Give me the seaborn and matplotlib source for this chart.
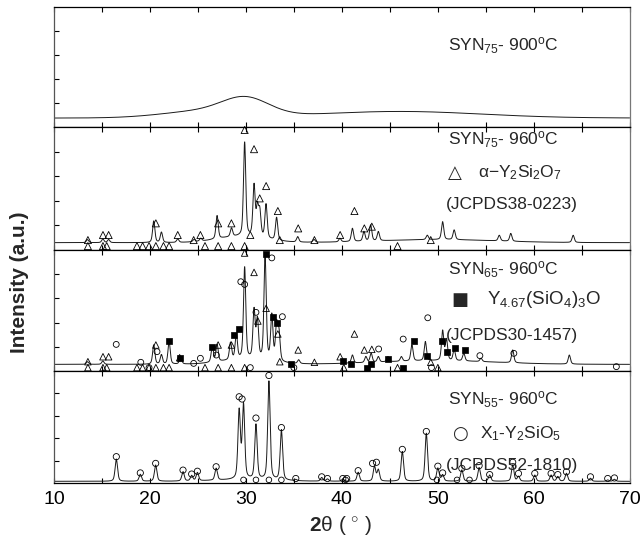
import numpy as np
import pandas as pd
import matplotlib
matplotlib.use("Agg")
import matplotlib.pyplot as plt
import seaborn as sns

# ---------------- data ----------------
# panel 1: SYN75 - 900C, amorphous pattern: baseline + broad humps (centre, height, sigma)
p1_base = 7.5
p1_hump_pos = [30.0, 26.0, 46.0]
p1_hump_h = [13.0, 6.0, 5.5]
p1_hump_sig = [2.4, 4.5, 8.5]
p1_peak_pos = []
p1_peak_top = []

# panel 2: SYN75 - 960C
p2_base = 6.0
p2_hump_pos = [29.5, 50.0]
p2_hump_h = [5.0, 2.5]
p2_hump_sig = [2.5, 6.0]
p2_peak_pos = [13.5, 15.1, 15.7, 20.4, 21.2, 22.9, 24.6, 25.3, 27.0, 28.5, 29.87,
               30.85, 31.2, 31.45, 32.1, 33.2, 35.4, 37.1, 39.8, 41.1, 42.3, 43.0,
               43.8, 48.9, 50.5, 51.7, 56.4, 57.6, 64.1]
p2_peak_top = [8.5, 9.0, 8.5, 23.6, 14.4, 9.0, 8.5, 9.5, 27.9, 17.6, 87.5,
               51.5, 32.5, 29.8, 36.6, 26.3, 10.8, 8.5, 9.5, 17.6, 14.9, 20.3,
               14.9, 12.0, 23.0, 16.3, 12.0, 13.5, 12.0]
p2_tri_x = [13.54, 15.11, 15.70, 20.62, 22.9, 24.56, 25.26, 27.11, 28.49, 29.87, 30.85,
            31.44, 32.11, 33.33, 30.46, 33.53, 35.45, 37.14, 39.82, 41.31, 42.34, 43.12, 49.26]
p2_tri_y = [8.1, 12.2, 12.2, 21.7, 12.2, 8.1, 12.2, 21.7, 21.7, 97.6, 82.0,
            42.0, 52.0, 31.7, 12.2, 8.1, 17.6, 8.1, 12.2, 31.7, 17.6, 19.0, 8.1]
p2_trib_x = [13.54, 15.11, 15.5, 18.65, 19.24, 19.91, 20.62, 21.41, 22.0, 25.74,
             27.11, 28.49, 29.87, 45.8]
p2_trib_y = [3.2] * 14

# panel 3: SYN65 - 960C
p3_base = 5.5
p3_hump_pos = [30.0, 50.0]
p3_hump_h = [4.0, 3.0]
p3_hump_sig = [2.5, 6.0]
p3_peak_pos = [13.5, 15.1, 20.4, 21.2, 22.0, 23.2, 26.5, 27.0, 28.4, 29.0, 29.87,
               30.85, 31.2, 32.0, 32.7, 33.2, 33.45, 35.5, 41.1, 42.5, 43.05, 43.8,
               44.8, 46.2, 47.3, 48.7, 50.5, 50.9, 51.7, 52.7, 54.5, 57.8, 63.7]
p3_peak_top = [7.7, 8.3, 21.5, 13.2, 24.2, 11.8, 20.0, 21.5, 22.9, 29.8, 85.4,
               49.0, 40.8, 94.5, 44.9, 36.6, 29.8, 9.1, 13.2, 11.8, 14.6, 11.8,
               11.8, 11.8, 21.5, 24.2, 33.0, 25.6, 17.4, 14.6, 10.5, 17.4, 13.2]
p3_sq_x = [22.0, 23.18, 26.52, 28.77, 29.28, 32.11, 32.82, 33.21, 34.71, 40.1, 40.96,
           42.57, 43.05, 44.82, 46.39, 47.49, 48.87, 50.44, 50.99, 51.78, 52.8]
p3_sq_y = [24.8, 11.0, 20.1, 29.8, 34.7, 96.5, 44.9, 40.0, 5.5, 8.3, 5.5,
           2.8, 5.5, 9.9, 2.2, 24.8, 12.7, 24.8, 16.0, 19.3, 17.4]
p3_circ_x = [16.49, 20.74, 19.05, 19.91, 24.56, 25.26, 26.92, 29.47, 29.87, 31.05,
             32.7, 33.8, 43.83, 46.39, 48.95, 54.38, 57.92, 68.6, 49.34, 30.46, 35.0]
p3_circ_y = [22.0, 16.0, 7.2, 2.8, 6.3, 10.5, 13.2, 73.8, 71.6, 48.5,
             93.5, 44.9, 18.2, 26.4, 44.0, 12.7, 14.6, 3.6, 2.8, 2.8, 2.8]
p3_tri_x = [13.54, 15.11, 15.70, 20.62, 23.1, 27.11, 28.49, 29.87, 30.85, 31.25, 32.11,
            33.33, 33.53, 35.45, 37.14, 39.82, 41.31, 42.34, 43.12, 49.26]
p3_tri_y = [7.7, 11.8, 11.8, 21.5, 11.0, 21.5, 21.5, 97.5, 81.5, 41.3, 51.8,
            30.6, 7.7, 17.4, 7.2, 11.8, 30.6, 17.4, 17.9, 7.2]
p3_trib_x = [13.54, 15.11, 15.5, 18.65, 19.24, 19.91, 20.62, 21.41, 22.0, 25.74,
             27.11, 28.49, 29.87, 40.2, 45.8, 50.0]
p3_trib_y = [2.8] * 16

# panel 4: SYN55 - 960C
p4_base = 1.5
p4_hump_pos = [30.0]
p4_hump_h = [1.5]
p4_hump_sig = [3.0]
p4_peak_pos = [16.5, 19.0, 20.6, 23.45, 24.35, 24.95, 26.9, 29.3, 29.75, 31.05, 32.4,
               33.7, 35.2, 37.9, 38.5, 40.1, 41.7, 43.4, 43.8, 46.3, 48.8, 50.0, 50.5,
               52.5, 54.3, 55.4, 57.8, 58.4, 60.1, 61.8, 62.5, 63.4, 65.9, 67.7, 68.4]
p4_peak_top = [21.4, 7.7, 16.0, 10.0, 6.5, 9.2, 13.0, 63.7, 69.0, 51.8, 90.5,
               47.0, 2.9, 4.8, 3.5, 3.3, 9.5, 14.6, 11.6, 28.0, 44.3, 13.0, 7.0,
               11.6, 13.7, 7.0, 16.0, 5.7, 7.0, 7.0, 5.7, 8.6, 4.2, 2.7, 3.3]
p4_circ_x = [16.5, 19.0, 20.6, 23.45, 24.35, 24.95, 26.9, 29.3, 29.6, 31.05, 32.4,
             33.7, 35.2, 37.9, 38.5, 40.1, 40.5, 41.7, 43.2, 43.6, 46.3, 48.8, 50.0,
             50.5, 52.5, 54.3, 55.4, 57.8, 58.4, 60.1, 61.8, 62.5, 63.4, 65.9, 67.7, 68.4]
p4_circ_y = [23.5, 9.0, 17.5, 11.5, 8.0, 10.5, 14.5, 77.0, 75.0, 58.0, 96.0,
             49.5, 4.0, 5.5, 4.0, 4.0, 4.0, 11.0, 17.5, 18.5, 30.0, 46.0, 15.0,
             9.0, 13.0, 15.5, 7.5, 18.5, 8.5, 8.5, 8.5, 7.5, 10.0, 5.5, 4.0, 4.5]
p4_circb_x = [29.75, 31.05, 32.4, 33.7, 40.4, 49.9, 52.0, 53.3]
p4_circb_y = [2.8] * 8

labels = [
    ["SYN$_{75}$- 900$^{\\rm o}$C"],
    ["SYN$_{75}$- 960$^{\\rm o}$C", "α−Y$_2$Si$_2$O$_7$", "(JCPDS38-0223)"],
    ["SYN$_{65}$- 960$^{\\rm o}$C", "Y$_{4.67}$(SiO$_4$)$_3$O", "(JCPDS30-1457)"],
    ["SYN$_{55}$- 960$^{\\rm o}$C", "X$_1$-Y$_2$SiO$_5$", "(JCPDS52-1810)"],
]
legend_symbols = [None, "△", "■", "○"]
x_ticks = [10, 20, 30, 40, 50, 60, 70]

# ---------------- build patterns ----------------
theta = np.arange(10.0, 70.0, 0.02)


def background(x, base, hpos, hh, hsig):
    x = np.asarray(x, dtype=float)
    b = np.full_like(x, base)
    for c, h, s in zip(hpos, hh, hsig):
        b += h * np.exp(-0.5 * ((x - c) / s) ** 2)
    return b


def pattern(base, hpos, hh, hsig, ppos, ptop, fwhm=0.28, eta=0.45):
    y = background(theta, base, hpos, hh, hsig)
    bg_at = background(ppos, base, hpos, hh, hsig) if len(ppos) else []
    for c, top, b in zip(ppos, ptop, bg_at):
        amp = max(top - b, 0.0)
        d = (theta - c) / (fwhm / 2)
        lor = 1.0 / (1.0 + d ** 2)
        gau = np.exp(-np.log(2) * d ** 2)
        y += amp * (eta * lor + (1 - eta) * gau)
    return y


patterns = [
    pattern(p1_base, p1_hump_pos, p1_hump_h, p1_hump_sig, p1_peak_pos, p1_peak_top),
    pattern(p2_base, p2_hump_pos, p2_hump_h, p2_hump_sig, p2_peak_pos, p2_peak_top),
    pattern(p3_base, p3_hump_pos, p3_hump_h, p3_hump_sig, p3_peak_pos, p3_peak_top),
    pattern(p4_base, p4_hump_pos, p4_hump_h, p4_hump_sig, p4_peak_pos, p4_peak_top, fwhm=0.3),
]

# ---------------- figure ----------------
sns.set_theme(style="ticks")
plt.rcParams["font.family"] = ["Liberation Sans", "DejaVu Sans"]
plt.rcParams["mathtext.fontset"] = "custom"
plt.rcParams["mathtext.rm"] = "Liberation Sans"
plt.rcParams["mathtext.it"] = "Liberation Sans:italic"
plt.rcParams["mathtext.bf"] = "Liberation Sans:bold"

fig = plt.figure(figsize=(6.42, 5.43), dpi=100)
gs = fig.add_gridspec(4, 1, height_ratios=[120, 123, 121, 112], hspace=0,
                      left=0.084, right=0.981, top=0.987, bottom=0.1105)
axes = [fig.add_subplot(gs[i]) for i in range(4)]

mk = dict(facecolor="none", edgecolor="black", linewidth=0.6, legend=False, zorder=3)

for i, ax in enumerate(axes):
    df = pd.DataFrame({"x": theta, "y": patterns[i]})
    sns.lineplot(data=df, x="x", y="y", ax=ax, color="#1a1a1a", linewidth=0.7,
                 estimator=None, sort=False)
    ax.set_xlim(10, 70)
    ax.set_ylim(0, 100)
    ax.set_xticks(np.arange(10, 71, 5))
    ax.set_yticks([20, 40, 60, 80])
    ax.set_yticklabels([])
    ax.set_xlabel("")
    ax.set_ylabel("")
    ax.tick_params(direction="in", top=True, bottom=True, left=True, right=False,
                   length=3.5, width=0.8, colors="black")
    for s in ax.spines.values():
        s.set_linewidth(0.9)
        s.set_color("black")
    ax.spines["right"].set_color("#777777")
    ax.spines["left"].set_color("#555555")
    if i < 3:
        ax.set_xticklabels([])

# markers
sns.scatterplot(x=p2_tri_x, y=p2_tri_y, ax=axes[1], marker="^", s=26, **mk)
sns.scatterplot(x=p2_trib_x, y=p2_trib_y, ax=axes[1], marker="^", s=26, **mk)
sns.scatterplot(x=p3_tri_x, y=p3_tri_y, ax=axes[2], marker="^", s=22, **mk)
sns.scatterplot(x=p3_trib_x, y=p3_trib_y, ax=axes[2], marker="^", s=22, **mk)
sns.scatterplot(x=p3_circ_x, y=p3_circ_y, ax=axes[2], marker="o", s=18, **mk)
sns.scatterplot(x=p3_sq_x, y=p3_sq_y, ax=axes[2], marker="s", s=20,
                color="black", edgecolor="black", linewidth=0.5, legend=False, zorder=3)
sns.scatterplot(x=p4_circ_x, y=p4_circ_y, ax=axes[3], marker="o", s=20, **mk)
sns.scatterplot(x=p4_circb_x, y=p4_circb_y, ax=axes[3], marker="o", s=16, **mk)
for ax in axes[1:3]:
    for c in ax.collections:
        c.set_clip_on(False)

# x tick labels on the bottom panel
axes[3].set_xticks(np.arange(10, 71, 5))
axes[3].set_xticklabels([str(t) if t in x_ticks else "" for t in np.arange(10, 71, 5)],
                        fontsize=14)
axes[3].tick_params(axis="x", pad=6)

# panel texts (axes-fraction positions)
fs = 12.5
title_y = [0.68, 0.90, 0.835, 0.74]
sym_y = [None, 0.63, 0.59, 0.44]
sym_x = [None, 0.696, 0.705, 0.705]
lab_x = [None, 0.736, 0.752, 0.74]
lab_fs = [None, 12.5, 13.5, 12.5]
ref_y = [None, 0.37, 0.29, 0.16]
for i, ax in enumerate(axes):
    ax.text(0.78, title_y[i], labels[i][0], transform=ax.transAxes,
            ha="center", va="center", fontsize=fs)
    if i > 0:
        ax.text(sym_x[i], sym_y[i], legend_symbols[i], transform=ax.transAxes,
                ha="center", va="center", fontsize=13, family=["DejaVu Sans"])
        ax.text(lab_x[i], sym_y[i], labels[i][1], transform=ax.transAxes,
                ha="left", va="center", fontsize=lab_fs[i])
        ax.text(0.795, ref_y[i], labels[i][2], transform=ax.transAxes,
                ha="center", va="center", fontsize=fs)

fig.text(0.031, 0.48, "Intensity (a.u.)", rotation=90, ha="center", va="center",
         fontsize=15, fontweight="bold")
fig.text(0.53, 0.032, "$\\mathbf{2}$θ ( $^{\\circ}$ )", ha="center", va="center",
         fontsize=15)

fig.savefig("out.png", dpi=100)
